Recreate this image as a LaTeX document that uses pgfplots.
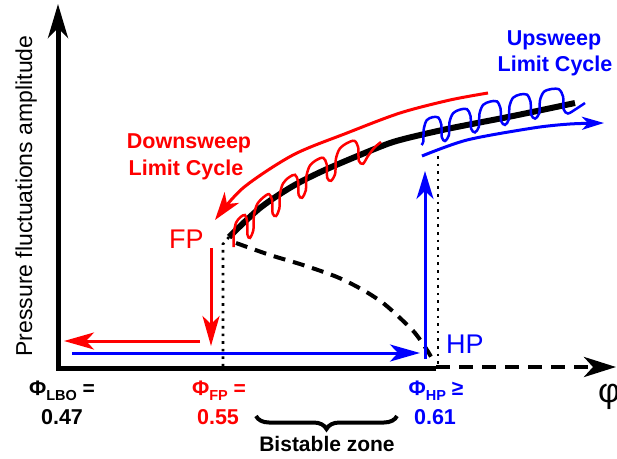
\documentclass[border=0pt]{standalone}
\usepackage{fontspec}
\setmainfont{Liberation Sans}
\usepackage{pgfplots}
\pgfplotsset{compat=1.18}
\usetikzlibrary{arrows.meta,decorations.pathreplacing}
\definecolor{myred}{RGB}{255,0,0}
\definecolor{myblue}{RGB}{0,0,255}
\newcommand\fs[1]{\fontsize{#1bp}{#1bp}\selectfont}
\begin{document}
\begin{tikzpicture}
\begin{axis}[name=ax,
  width=617bp, height=459bp, scale only axis,
  xmin=0, xmax=617, ymin=0, ymax=459, y dir=reverse,
  hide axis, clip=false]
% axes
\addplot[line width=5bp, line join=miter, -{Stealth[length=34bp,width=20bp,inset=10bp]}] coordinates {(436,368) (58,368) (58,4)};
\addplot[line width=4.5bp, dash pattern=on 14bp off 9bp, -{Stealth[length=32bp,width=20bp,inset=9bp]}] coordinates {(436,367) (616,367)};
% dotted guides
\addplot[line width=2.6bp, dash pattern=on 2.6bp off 5bp] coordinates {(229,237) (223,244) (223,366)};
\addplot[line width=2.6bp, dash pattern=on 2.6bp off 5bp] coordinates {(438,156) (438,364)};
% unstable branch
\addplot[line width=4bp, dash pattern=on 12bp off 8bp, smooth] coordinates {(236,243) (270,255) (303,265) (337,277) (363,290) (383,303) (400,318) (415,333) (427,350) (434,362)};
% stable branch
\addplot[line width=6bp, smooth] coordinates {(229,237) (260,208) (293,186) (327,169) (377,148) (400,140) (447,129) (513,116) (575,103)};
% downsweep limit cycle (red oscillation)
\addplot[myred, line width=2.5bp, smooth] coordinates {
(233.5,247.1) (233.9,233.0) (236.1,222.6) (240.5,217.1) (244.9,215.0) (247.2,221.5) (247.5,234.9)
(250.0,237.9) (253.4,229.8) (253.9,215.6) (257.0,204.5) (263.0,197.6) (269.0,194.1) (272.1,200.1) (272.6,213.5)
(276.0,216.0) (279.4,208.4) (279.9,194.3) (283.0,183.5) (289.0,177.3) (295.0,174.8) (298.1,181.4) (298.6,194.8)
(302.0,197.8) (305.8,190.4) (306.4,176.3) (309.8,165.8) (316.5,160.0) (323.2,157.8) (326.7,164.3) (327.2,177.8)
(331.0,180.8) (335.2,173.5) (335.8,159.4) (339.6,148.9) (347.0,143.1) (354.4,140.8) (358.2,147.4) (358.8,160.8)
(363.0,163.8) (368.0,156.0) (374.5,147.5) (381.0,142.0)};
% upsweep limit cycle (blue oscillation)
\addplot[myblue, line width=2.5bp, smooth] coordinates {
(421.5,145.0) (423.3,141.6) (423.8,128.6) (426.8,120.1) (432.5,117.2) (438.3,117.5) (441.3,124.6) (441.8,137.3)
(445.0,141.0) (448.9,135.2) (449.5,122.2) (453.1,113.2) (460.0,109.6) (466.9,109.1) (470.5,116.0) (471.1,128.7)
(475.0,132.4) (478.9,126.7) (479.5,113.7) (483.1,104.9) (490.0,101.6) (496.9,101.4) (500.5,108.4) (501.1,121.1)
(505.0,124.9) (508.9,119.3) (509.5,106.3) (513.1,97.7) (520.0,94.5) (526.9,94.6) (530.5,101.7) (531.1,114.5)
(535.0,118.6) (539.3,113.2) (540.0,100.3) (543.9,91.8) (551.5,89.0) (559.1,89.4) (563.1,96.7) (563.7,109.4)
(568.0,113.5) (576.0,109.0) (585.0,103.0)};
% sweep arrows
\addplot[myred, line width=3bp, smooth, -{Stealth[length=28bp,width=18bp,inset=8bp]}] coordinates {(488,93) (450,100) (400,113) (347,133) (293,155) (243,188) (215,220)};
\addplot[myblue, line width=3bp, smooth, -{Stealth[length=22bp,width=13bp,inset=6bp]}] coordinates {(422,156) (467,140) (533,128) (570,124) (604,123)};
\addplot[myred, line width=3bp, -{Stealth[length=30bp,width=17bp,inset=8bp]}] coordinates {(211,248) (211,346)};
\addplot[myred, line width=3bp, -{Stealth[length=30bp,width=17bp,inset=8bp]}] coordinates {(200,341) (64,341)};
\addplot[myblue, line width=3bp, -{Stealth[length=30bp,width=17bp,inset=8bp]}] coordinates {(72,353) (420,353)};
\addplot[myblue, line width=3bp, -{Stealth[length=28bp,width=17bp,inset=8bp]}] coordinates {(425,359) (425,171)};
% brace
\addplot[line width=4bp, decorate, decoration={brace, amplitude=13bp}] coordinates {(397,416) (256,416)};
% texts
\node[anchor=base, rotate=90, font=\fs{23}, inner sep=0pt] at (axis cs:32,196) {Pressure fluctuations amplitude};
\node[anchor=base, text=myred, font=\bfseries\fs{21.5}, inner sep=0pt] at (axis cs:189,148) {Downsweep};
\node[anchor=base, text=myred, font=\bfseries\fs{21.5}, inner sep=0pt] at (axis cs:186,175) {Limit Cycle};
\node[anchor=base, text=myblue, font=\bfseries\fs{21.5}, inner sep=0pt] at (axis cs:554,46) {Upsweep};
\node[anchor=base, text=myblue, font=\bfseries\fs{21.5}, inner sep=0pt] at (axis cs:555,72) {Limit Cycle};
\node[anchor=base west, text=myred, font=\fs{27}, inner sep=0pt] at (axis cs:169,248) {FP};
\node[anchor=base west, text=myblue, font=\fs{27}, inner sep=0pt] at (axis cs:446,353) {HP};
\node[anchor=base, font=\bfseries\fs{21}, inner sep=0pt] at (axis cs:62,395) {Φ\raisebox{-5bp}{\fs{14.5}LBO} =};
\node[anchor=base, font=\bfseries\fs{21.5}, inner sep=0pt] at (axis cs:62,424) {0.47};
\node[anchor=base, text=myred, font=\bfseries\fs{21}, inner sep=0pt] at (axis cs:219,395) {Φ\raisebox{-5bp}{\fs{14.5}FP} =};
\node[anchor=base, text=myred, font=\bfseries\fs{21.5}, inner sep=0pt] at (axis cs:218,424) {0.55};
\node[anchor=base, text=myblue, font=\bfseries\fs{21}, inner sep=0pt] at (axis cs:436,395) {Φ\raisebox{-5bp}{\fs{14.5}HP} ≥};
\node[anchor=base, text=myblue, font=\bfseries\fs{21.5}, inner sep=0pt] at (axis cs:435,424) {0.61};
\node[anchor=base, font=\bfseries\fs{21}, inner sep=0pt] at (axis cs:327,451) {Bistable zone};
\node[anchor=base west, font=\fs{34}, inner sep=0pt] at (axis cs:598,402) {φ};
\end{axis}
\pgfresetboundingbox
\path[use as bounding box] (ax.south west) rectangle (ax.north east);
\end{tikzpicture}
\end{document}
